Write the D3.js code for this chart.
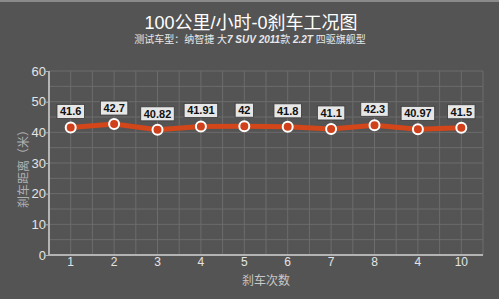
<!DOCTYPE html>
<html lang="zh">
<head>
<meta charset="UTF-8">
<title>刹车工况图</title>
<script src="https://d3js.org/d3.v7.min.js"></script>
<style>
    * { margin: 0; padding: 0; }
    body { background: #545454; }
    svg { display: block; }
    text { font-family: "Liberation Sans", Arial, "Noto Sans CJK SC", sans-serif; }
</style>
</head>
<body>
<script>
    // data
    var runs = ["r1", "r2", "r3", "r4", "r5", "r6", "r7", "r8", "r9", "r10"];
    var runLabels = ["1", "2", "3", "4", "5", "6", "7", "8", "4", "10"];
    var distances = [41.6, 42.7, 40.82, 41.91, 42, 41.8, 41.1, 42.3, 40.97, 41.5];
    var yTicks = [0, 10, 20, 30, 40, 50, 60];

    var width = 499, height = 299;
    var margin = {left: 49, right: 16, top: 71, bottom: 44};

    var svg = d3.select("body").append("svg")
        .attr("width", width)
        .attr("height", height);

    svg.append("rect").attr("width", width).attr("height", height).attr("fill", "#545454");
    svg.append("rect").attr("width", width).attr("height", 2).attr("fill", "#8a8a8a");

    var x = d3.scaleBand()
        .domain(runs)
        .range([margin.left, width - margin.right]);

    var y = d3.scaleLinear()
        .domain([0, 60])
        .range([height - margin.bottom, margin.top]);

    var cx = function(i) { return x(runs[i]) + x.bandwidth() / 2; };

    // grid
    var grid = svg.append("g");
    grid.selectAll("line.h")
        .data(d3.range(5, 61, 5))
        .enter().append("line")
        .attr("x1", margin.left).attr("x2", width - margin.right)
        .attr("y1", function(d) { return y(d); })
        .attr("y2", function(d) { return y(d); })
        .attr("stroke", "#6c6c6c").attr("stroke-width", 1);
    var vx = [];
    runs.forEach(function(r) {
        vx.push(x(r) + x.bandwidth() / 2);
        vx.push(x(r) + x.bandwidth());
    });
    grid.selectAll("line.v")
        .data(vx)
        .enter().append("line")
        .attr("x1", function(d) { return d; })
        .attr("x2", function(d) { return d; })
        .attr("y1", y(60)).attr("y2", y(0))
        .attr("stroke", "#6c6c6c").attr("stroke-width", 1);

    // axes
    var yAxis = svg.append("g")
        .attr("transform", "translate(" + margin.left + ",0)")
        .call(d3.axisLeft(y).tickValues(yTicks).tickSize(3));
    var xAxis = svg.append("g")
        .attr("transform", "translate(0," + y(0) + ")")
        .call(d3.axisBottom(x).tickSize(0).tickFormat(function(d, i) { return runLabels[i]; }));
    [yAxis, xAxis].forEach(function(a) {
        a.select(".domain").attr("stroke", "#b4b4b4").attr("stroke-width", 2);
        a.selectAll(".tick line").attr("stroke", "#b4b4b4");
        a.selectAll("text").attr("fill", "#e4e4e4").style("font-size", "13px");
    });
    yAxis.select(".domain").attr("d", "M0," + y(60) + "V" + y(0));
    xAxis.select(".domain").attr("d", "M" + margin.left + ",0H" + (width - margin.right));
    xAxis.selectAll("text").attr("y", 2).attr("dy", "0.71em").style("font-size", "12px");
    yAxis.selectAll("text").attr("x", -3);

    // line
    var line = d3.line()
        .x(function(d, i) { return cx(i); })
        .y(function(d) { return y(d); });
    svg.append("path")
        .datum(distances)
        .attr("d", line)
        .attr("fill", "none")
        .attr("stroke", "#d2461a")
        .attr("stroke-width", 5);

    svg.selectAll("circle.pt")
        .data(distances)
        .enter().append("circle")
        .attr("cx", function(d, i) { return cx(i); })
        .attr("cy", function(d) { return y(d); })
        .attr("r", 5)
        .attr("fill", "#d0401a")
        .attr("stroke", "#ffffff")
        .attr("stroke-width", 2);

    // value labels
    var labels = svg.selectAll("g.lbl")
        .data(distances)
        .enter().append("g")
        .attr("transform", function(d, i) { return "translate(" + cx(i) + "," + (y(d) - 16) + ")"; });
    labels.append("text")
        .attr("text-anchor", "middle")
        .attr("dy", "0.36em")
        .style("font-size", "11px")
        .style("font-weight", "bold")
        .attr("fill", "#111")
        .text(function(d) { return d; });
    labels.each(function() {
        var g = d3.select(this);
        var bb = g.select("text").node().getBBox();
        g.insert("rect", "text")
            .attr("x", bb.x - 3).attr("y", -7)
            .attr("width", bb.width + 6).attr("height", 14)
            .attr("fill", "#e6e6e6")
            .attr("stroke", "#3a3a3a").attr("stroke-width", 0.8);
    });

    // titles
    svg.append("text")
        .attr("x", 251).attr("y", 29)
        .attr("text-anchor", "middle")
        .attr("fill", "#ffffff")
        .style("font-size", "18px")
        .text("100公里/小时-0刹车工况图");
    var sub = svg.append("text")
        .attr("x", 250).attr("y", 43)
        .attr("text-anchor", "middle")
        .attr("fill", "#e8e8e8")
        .style("font-size", "10px");
    sub.append("tspan").text("测试车型：纳智捷 大");
    sub.append("tspan").style("font-weight", "bold").style("font-style", "italic").text("7 SUV 2011");
    sub.append("tspan").text("款 ");
    sub.append("tspan").style("font-weight", "bold").style("font-style", "italic").text("2.2T");
    sub.append("tspan").text(" 四驱旗舰型");

    svg.append("text")
        .attr("transform", "translate(28,166) rotate(-90)")
        .attr("text-anchor", "middle")
        .attr("fill", "#b0b0b0")
        .style("font-size", "12px")
        .text("刹车距离（米）");

    svg.append("text")
        .attr("x", 266).attr("y", 285)
        .attr("text-anchor", "middle")
        .attr("fill", "#c8c8c8")
        .style("font-size", "12px")
        .text("刹车次数");
</script>
</body>
</html>
